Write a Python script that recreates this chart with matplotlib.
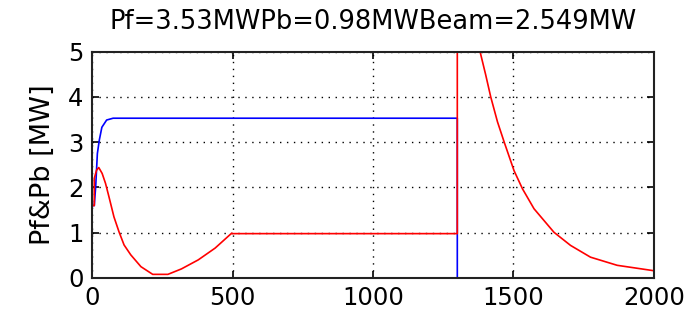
import matplotlib
matplotlib.use("Agg")
import matplotlib.pyplot as plt

# Forward power (blue) sample points: time vs MW
pf_t = [0, 8, 13, 19, 26, 35, 52, 75, 1300, 1300, 2000]
pf_mw = [1.6, 1.6, 2.02, 2.75, 3.05, 3.33, 3.49, 3.53, 3.53, 0.0, 0.0]

# Reflected power (red) sample points: time vs MW
pb_t = [0, 0, 8, 8, 16, 24, 36, 48, 60, 78, 96, 114, 138, 174, 216, 270,
        318, 378, 438, 497, 500, 1300, 1300, 1340, 1381, 1401, 1419, 1443,
        1467, 1502, 1532, 1573, 1644, 1703, 1774, 1869, 2000]
pb_mw = [0.0, 1.6, 1.6, 2.2, 2.38, 2.44, 2.31, 2.09, 1.80, 1.35, 1.02, 0.73,
         0.51, 0.25, 0.08, 0.08, 0.20, 0.40, 0.66, 0.99, 0.98, 0.98, 8.2,
         6.4, 5.0, 4.49, 4.0, 3.45, 3.0, 2.37, 1.97, 1.53, 1.01, 0.72, 0.46,
         0.28, 0.16]

x_ticks = [0, 500, 1000, 1500, 2000]
y_ticks = [0, 1, 2, 3, 4, 5]
title_text = "Pf=3.53MWPb=0.98MWBeam=2.549MW"
y_label = "Pf&Pb [MW]"

plt.rcParams["font.family"] = ["DejaVu Sans"]

fig = plt.figure(figsize=(6.93, 3.21), dpi=100)
ax = fig.add_axes([0.1328, 0.134, 0.8109, 0.705])

ax.plot(pf_t, pf_mw, color="#0000ff", lw=1.2)
ax.plot(pb_t, pb_mw, color="#ff0000", lw=1.2)

ax.set_xlim(0, 2000)
ax.set_ylim(0, 5)
ax.set_xticks(x_ticks)
ax.set_yticks(y_ticks)
ax.grid(True, color="black", linestyle=(0, (1, 4)), linewidth=1.0)

ax.tick_params(direction="in", length=5, width=1.2, top=True, right=True,
               labelsize=17.5, pad=6)
for s in ax.spines.values():
    s.set_linewidth(1.5)
    s.set_color("#222222")

ax.set_title(title_text, fontsize=18.5, pad=16)
ax.set_ylabel(y_label, fontsize=19.5, labelpad=9)

fig.savefig("out.png", dpi=100)
